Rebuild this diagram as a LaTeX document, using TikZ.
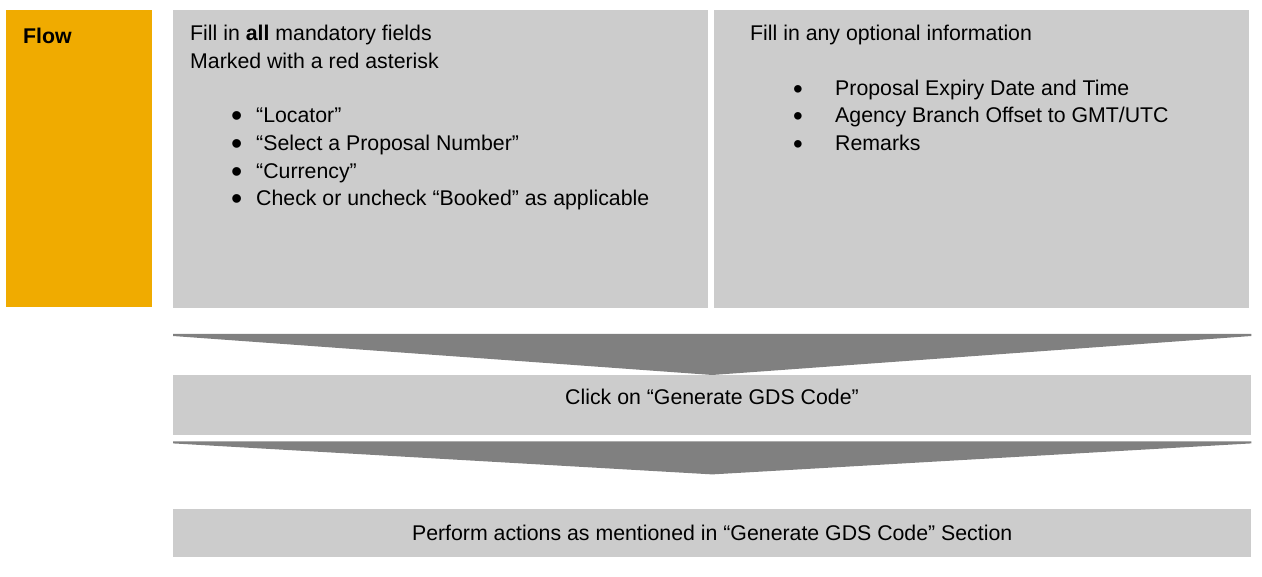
\documentclass[tikz,border=0pt]{standalone}
\usepackage{fontspec}
\setmainfont{Liberation Sans}
\usepackage{xcolor}
\usepackage{graphicx}
\usetikzlibrary{positioning}
\definecolor{flowgold}{HTML}{F0AB00}
\definecolor{boxgray}{HTML}{CCCCCC}
\definecolor{chevgray}{HTML}{808080}
\newcommand{\bigbullet}[2]{\smash{\raisebox{-#2}{\scalebox{#1}{\textbullet}}}}
\newcommand{\bulline}[2]{\hspace*{41pt}\makebox[25pt][l]{\bigbullet{1.5}{4.1pt}}#2}
\newcommand{\optline}[1]{\hspace*{43pt}\makebox[42pt][l]{\bigbullet{1.3}{2.9pt}}#1}

\begin{document}
\begin{tikzpicture}[x=1pt, y=-1pt, font=\fontsize{21.3}{27.6}\selectfont,
    panel/.style={fill=boxgray, inner sep=0pt, anchor=north west},
    txt/.style={inner sep=0pt, anchor=north west, align=left},
    chevron/.style={fill=chevgray}]
        \useasboundingbox (0,0) rectangle (1262,577);

        % Panels on the top row
        \node[panel, fill=flowgold, minimum width=146pt, minimum height=297pt] (flow) at (6,10) {};
        \node[panel, minimum width=535pt, minimum height=298pt] (mand) at (173,10) {};
        \node[panel, minimum width=535pt, minimum height=298pt] (opt) at (714,10) {};

        % Texts in the top row
        \node[txt] (flowtxt) at ([shift={(17pt,-18pt)}]flow.north west) {\textbf{Flow}};
        \node[txt] (mandtxt) at ([shift={(17pt,-15pt)}]mand.north west)
            {Fill in \textbf{all} mandatory fields\\
             Marked with a red asterisk\\[27pt]
             \bulline{}{“Locator”}\\
             \bulline{}{“Select a Proposal Number”}\\
             \bulline{}{“Currency”}\\
             \bulline{}{Check or uncheck “Booked” as applicable}};
        \node[txt] (opttxt) at ([shift={(36pt,-15pt)}]opt.north west)
            {Fill in any optional information\\[27pt]
             \optline{Proposal Expiry Date and Time}\\
             \optline{Agency Branch Offset to GMT/UTC}\\
             \optline{Remarks}};

        % Steps below
        \node[panel, minimum width=1078pt, minimum height=60pt] (click) at (173,375) {};
        \node (clicktxt) at (712,397) {Click on “Generate GDS Code”};
        \node[panel, minimum width=1078pt, minimum height=48pt] (perform) at (173,509) {};
        \node (performtxt) at (perform.center) {Perform actions as mentioned in “Generate GDS Code” Section};

        % Chevrons pointing down
        \fill[chevron] ([yshift=41pt]click.north west) -- ([yshift=41pt]click.north east)
            -- ([yshift=39pt]click.north east) -- (click.north) -- ([yshift=39pt]click.north west) -- cycle;
        \fill[chevron] ([yshift=-6pt]click.south west) -- ([yshift=-6pt]click.south east)
            -- ([yshift=-8pt]click.south east) -- ([yshift=-39pt]click.south) -- ([yshift=-8pt]click.south west) -- cycle;
    \end{tikzpicture}
\end{document}
